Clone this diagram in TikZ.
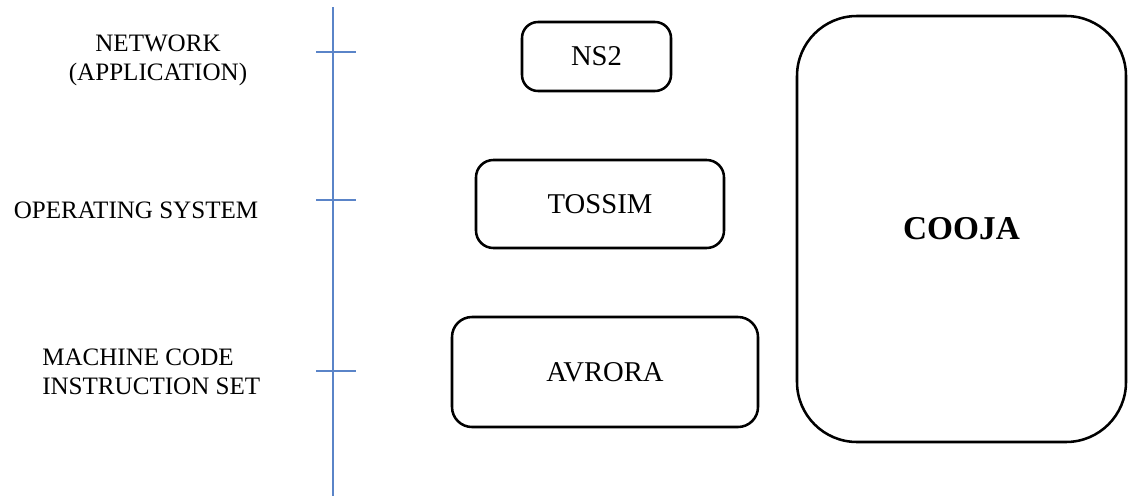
\documentclass[tikz,border=0pt]{standalone}
\usepackage{fontspec}
\setmainfont{Liberation Serif}
\begin{document}
\begin{tikzpicture}[x=0.75pt,y=-0.75pt,
  simbox/.style={draw=black,line width=1.9pt,align=center,inner sep=0pt,
    font=\fontsize{21.5}{24}\selectfont},
  layerlabel/.style={inner sep=0pt,font=\fontsize{18.8}{21.75}\selectfont},
  axisline/.style={draw={rgb,255:red,90;green,132;blue,200},line width=0.9pt}]
\useasboundingbox (0,0) rectangle (1128,496);

% layer axis with tick marks
\coordinate (axtop) at (333,7);
\coordinate (axbot) at (333,496);
\draw[axisline] (axtop) -- (axbot);
\coordinate (t1l) at (316,52);  \coordinate (t1r) at (356,52);
\coordinate (t2l) at (316,200); \coordinate (t2r) at (356,200);
\coordinate (t3l) at (316,371); \coordinate (t3r) at (356,371);
\draw[axisline] (t1l) -- (t1r);
\draw[axisline] (t2l) -- (t2r);
\draw[axisline] (t3l) -- (t3r);

% layer names
\node[layerlabel,align=center] (netlbl) at (158,60) {NETWORK\\(APPLICATION)};
\node[layerlabel] (oslbl) at (136,210) {OPERATING SYSTEM};
\node[layerlabel,align=left,anchor=west] (mclbl) at (42,372) {MACHINE CODE\\INSTRUCTION SET};

% simulators
\node[simbox,rounded corners=12pt,minimum width=111.75pt,minimum height=51.75pt]
  (ns2) at (596.5,56.5) {NS2};
\node[simbox,rounded corners=13pt,minimum width=186pt,minimum height=66pt]
  (tossim) at (600,204) {TOSSIM};
\node[simbox,rounded corners=15pt,minimum width=229.5pt,minimum height=82.5pt]
  (avrora) at (605,372) {AVRORA};
\node[simbox,rounded corners=45pt,minimum width=246.75pt,minimum height=319.5pt,
  font=\fontsize{25}{28}\selectfont\bfseries]
  (cooja) at (961.5,229) {COOJA};
\end{tikzpicture}
\end{document}
